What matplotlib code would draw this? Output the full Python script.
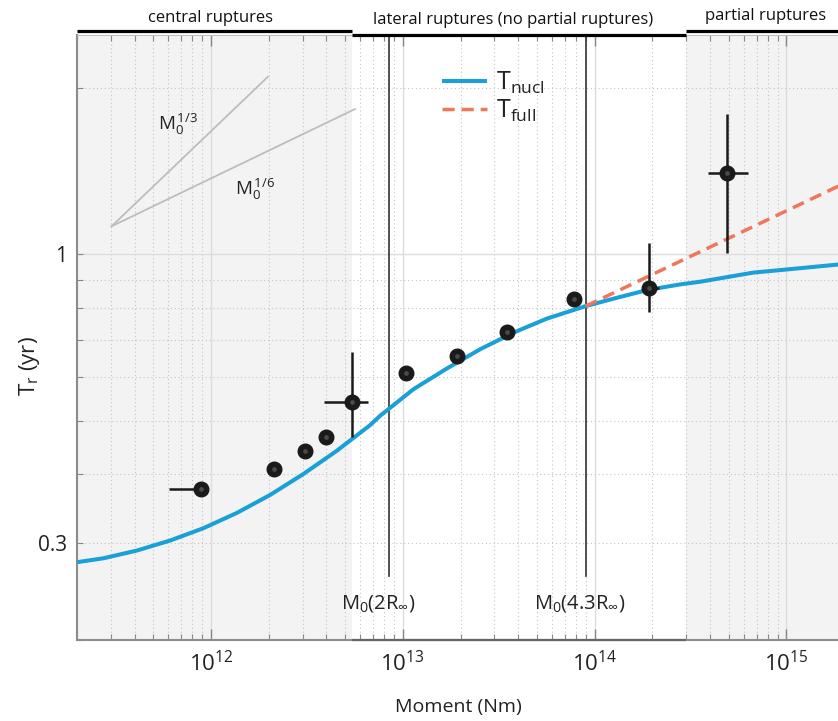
import numpy as np
import matplotlib
matplotlib.use('Agg')
import matplotlib.pyplot as plt
import matplotlib.transforms as mtransforms
from matplotlib.ticker import FixedLocator, FuncFormatter, LogLocator, LogFormatterSciNotation

plt.rcParams['font.family'] = ['Open Sans', 'DejaVu Sans']
plt.rcParams['mathtext.fontset'] = 'custom'
plt.rcParams['mathtext.rm'] = 'Open Sans'
plt.rcParams['mathtext.it'] = 'Open Sans:italic'
plt.rcParams['mathtext.bf'] = 'Open Sans:bold'

# ---------------- data ----------------
nucl_moment = [2.007e11, 2.743e11, 4.097e11, 6.110e11, 9.117e11, 1.362e12, 2.032e12,
               3.030e12, 4.526e12, 6.752e12, 7.61e12, 1.136e13, 1.696e13, 2.531e13,
               3.776e13, 5.640e13, 9.01e13, 1.255e14, 1.874e14, 2.796e14, 3.556e14,
               6.71e14, 1.007e15, 1.87e15]
nucl_T = [0.2768, 0.2813, 0.2905, 0.3029, 0.3189, 0.3399, 0.3664, 0.3999, 0.4406,
          0.4904, 0.5098, 0.5697, 0.6211, 0.6732, 0.7215, 0.7651, 0.8063, 0.8315,
          0.8618, 0.8826, 0.8925, 0.927, 0.9394, 0.959]

full_moment = [9.01e13, 2.0e15]
full_T = [0.8063, 1.345]

obs_moment = [8.87e11, 2.14e12, 3.10e12, 3.98e12, 5.46e12, 1.04e13, 1.91e13,
              3.51e13, 7.8e13, 1.92e14, 4.92e14]
obs_T = [0.375, 0.408, 0.440, 0.467, 0.541, 0.610, 0.655, 0.725, 0.829, 0.869, 1.405]
obs_moment_lo = [6.04e11, 2.14e12, 3.10e12, 3.98e12, 3.90e12, 1.04e13, 1.91e13,
                 3.51e13, 7.8e13, 1.80e14, 3.90e14]
obs_moment_hi = [8.87e11, 2.14e12, 3.10e12, 3.98e12, 6.56e12, 1.04e13, 1.91e13,
                 3.51e13, 7.8e13, 2.18e14, 6.34e14]
obs_T_lo = [0.375, 0.408, 0.440, 0.467, 0.466, 0.610, 0.655, 0.725, 0.829, 0.788, 1.007]
obs_T_hi = [0.375, 0.408, 0.440, 0.467, 0.666, 0.610, 0.655, 0.725, 0.829, 1.051, 1.80]

guide_origin = (3.03e11, 1.125)
guide_third_end = (1.98e12, 2.10)
guide_sixth_end = (5.63e12, 1.835)

moment_range = (2e11, 2e15)
T_range = (0.2, 2.5)
central_end = 5.44e12
partial_start = 3.0e14
m0_lines = [8.5e12, 9.05e13]
m0_line_bottom = 0.2615
m0_labels = [r'M$_0$(2R$_\infty$)', r'M$_0$(4.3R$_\infty$)']
region_labels = ['central ruptures', 'lateral ruptures (no partial ruptures)', 'partial ruptures']

# ---------------- figure ----------------
W, H = 838, 721
fig = plt.figure(figsize=(W / 100, H / 100), dpi=100)
ax = fig.add_axes([77 / W, 1 - 640 / H, (844 - 77) / W, (640 - 35) / H])
ax.set_xscale('log')
ax.set_yscale('log')
ax.set_xlim(*moment_range)
ax.set_ylim(*T_range)

# shaded regions
ax.axvspan(moment_range[0], central_end, color='#f3f3f3', zorder=0, lw=0)
ax.axvspan(partial_start, moment_range[1], color='#f3f3f3', zorder=0, lw=0)

# grid
ax.set_axisbelow(True)
ax.grid(which='major', color='#dcdcdc', lw=1.0, ls='-')
ax.grid(which='minor', color='#c4c4c4', lw=0.8, ls=(0, (1, 2.5)))

# ticks
ax.xaxis.set_major_locator(LogLocator(base=10, numticks=20))
ax.xaxis.set_minor_locator(LogLocator(base=10, subs=np.arange(2, 10), numticks=100))
ax.xaxis.set_major_formatter(LogFormatterSciNotation())
ax.yaxis.set_major_locator(FixedLocator([1]))
ax.yaxis.set_major_formatter(FuncFormatter(lambda v, p: '1'))
ax.yaxis.set_minor_locator(FixedLocator([0.2, 0.3, 0.4, 0.5, 0.6, 0.7, 0.8, 0.9, 2.0]))
ax.yaxis.set_minor_formatter(FuncFormatter(lambda v, p: '0.3' if abs(v - 0.3) < 1e-9 else ''))
ax.tick_params(axis='x', which='both', direction='in', top=True, colors='#888888',
               labelcolor='#222222', labelsize=16, pad=8)
ax.tick_params(axis='x', which='major', length=8, width=1)
ax.tick_params(axis='x', which='minor', length=4.5, width=0.8)
ax.tick_params(axis='y', which='both', direction='in', right=False, colors='#888888',
               labelcolor='#222222', labelsize=15, length=4, width=0.8, pad=7)

for s in ['left', 'bottom']:
    ax.spines[s].set_color('#8c8c8c')
    ax.spines[s].set_linewidth(1.5)
ax.spines['top'].set_color('#c0c0c0')
ax.spines['right'].set_visible(False)

trans = mtransforms.blended_transform_factory(ax.transData, ax.transAxes)
# darker bottom spine in the lateral region
ax.plot([central_end, partial_start], [0, 0], transform=trans, color='#666666', lw=1.6,
        clip_on=False, zorder=3, solid_capstyle='butt')

# region bars on top
ax.plot([moment_range[0], central_end], [1.0073, 1.0073], transform=trans, color='black',
        lw=2.3, clip_on=False, solid_capstyle='butt', zorder=6)
ax.plot([central_end, partial_start], [1.0, 1.0], transform=trans, color='black',
        lw=2.3, clip_on=False, solid_capstyle='butt', zorder=6)
ax.plot([partial_start, moment_range[1]], [1.0073, 1.0073], transform=trans, color='black',
        lw=2.3, clip_on=False, solid_capstyle='butt', zorder=6)

def ftext(x, y, s, **kw):
    fig.text(x / W, 1 - y / H, s, **kw)

ftext(210, 18, region_labels[0], ha='center', va='center', fontsize=12, color='#111111')
ftext(513, 20, region_labels[1], ha='center', va='center', fontsize=12, color='#111111')
ftext(766, 16, region_labels[2], ha='center', va='center', fontsize=12, color='#111111')

# slope guides
ax.plot([guide_origin[0], guide_third_end[0]], [guide_origin[1], guide_third_end[1]],
        color='#bdbdbd', lw=1.3, zorder=2)
ax.plot([guide_origin[0], guide_sixth_end[0]], [guide_origin[1], guide_sixth_end[1]],
        color='#bdbdbd', lw=1.3, zorder=2)
ftext(178, 124, r'M$_0^{\,1/3}$', ha='center', va='center', fontsize=13.5, color='#222222')
ftext(255, 189, r'M$_0^{\,1/6}$', ha='center', va='center', fontsize=13.5, color='#222222')

# M0 vertical lines
for xv in m0_lines:
    ax.plot([xv, xv], [m0_line_bottom, T_range[1]], color='#333333', lw=1.2, zorder=3)
ftext(378, 604, m0_labels[0], ha='center', va='center', fontsize=14.5, color='#222222')
ftext(580, 604, m0_labels[1], ha='center', va='center', fontsize=14.5, color='#222222')

# curves
ln1, = ax.plot(nucl_moment, nucl_T, color='#1a9fd6', lw=2.9, zorder=4,
               solid_capstyle='butt', solid_joinstyle='round', label=r'T$_{\mathrm{nucl}}$')
ln2, = ax.plot(full_moment, full_T, color='#f0765c', lw=2.5, dashes=(3.5, 2.0), zorder=4,
               label=r'T$_{\mathrm{full}}$')

# observations
om = np.array(obs_moment)
ot = np.array(obs_T)
xerr = [om - np.array(obs_moment_lo), np.array(obs_moment_hi) - om]
yerr = [ot - np.array(obs_T_lo), np.array(obs_T_hi) - ot]
ax.errorbar(om, ot, xerr=xerr, yerr=yerr, fmt='o', color='#1a1a1a', ms=10.5,
            ecolor='#1a1a1a', elinewidth=1.8, capsize=0, zorder=5)
ax.plot(om, ot, 'o', ms=2.4, color='#4a4a4a', zorder=6)

leg = ax.legend(handles=[ln1, ln2], loc='upper left', bbox_to_anchor=(424 / W, 1 - 52 / H),
                bbox_transform=fig.transFigure, frameon=False, fontsize=18,
                handlelength=1.8, handletextpad=0.4, labelspacing=0.1, borderpad=0.2)
for t in leg.get_texts():
    t.set_color('#222222')

# axis labels
ftext(30, 366, r'T$_{\mathrm{r}}$ (yr)', ha='center', va='center', rotation=90,
      fontsize=16, color='#222222')
ftext(458, 707, 'Moment (Nm)', ha='center', va='center', fontsize=14, color='#222222')

fig.savefig('out.png', dpi=100)
